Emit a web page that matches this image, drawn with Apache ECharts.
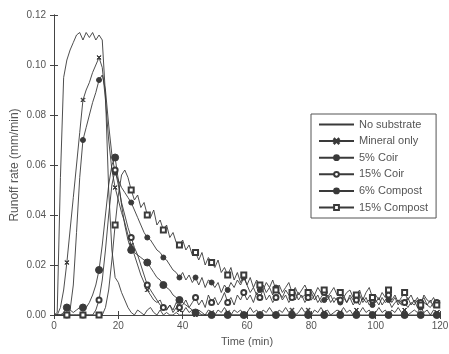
<!DOCTYPE html>
<html>
<head>
<meta charset="utf-8">
<script src="https://cdn.jsdelivr.net/npm/echarts@6/dist/echarts.min.js"></script>
<style>
  html, body { margin: 0; padding: 0; background: #fff; }
  #chart { width: 449px; height: 354px; }
</style>
</head>
<body>
<div id="chart"></div>
<script>
// Runoff rate (mm/min) sampled every minute, 0..120 min
const seriesNames = ['No substrate', 'Mineral only', '5% Coir', '15% Coir', '6% Compost', '15% Compost'];
const xTicks = [0, 20, 40, 60, 80, 100, 120];
const yTicks = [0, 0.02, 0.04, 0.06, 0.08, 0.10, 0.12];

const noSubstrate = [
  0, 0.001, 0.055, 0.095, 0.102, 0.106, 0.109, 0.112, 0.113, 0.110,
  0.113, 0.111, 0.113, 0.110, 0.112, 0.110, 0.088, 0.050, 0.026, 0.015,
  0.013, 0.009, 0.006, 0.003, 0.001, 0.000, 0.002, 0.001, 0.000, 0.002,
  0.003, 0.001, 0.000, 0.002, 0.000, 0.001, 0.000, 0.000, 0.001, 0.000,
  0, 0, 0, 0, 0, 0, 0, 0, 0, 0,
  0, 0, 0, 0, 0, 0, 0, 0, 0, 0, 0
];

const mineralOnly = [
  0, 0, 0.003, 0.010, 0.021, 0.034, 0.047, 0.060, 0.073, 0.086,
  0.090, 0.093, 0.097, 0.100, 0.103, 0.099, 0.086, 0.070, 0.058, 0.051,
  0.046, 0.041, 0.037, 0.032, 0.028, 0.024, 0.020, 0.016, 0.013, 0.010,
  0.008, 0.006, 0.005, 0.006, 0.003, 0.002, 0.004, 0.001, 0.003, 0.002,
  0.001, 0.003, 0.001, 0.002, 0.000, 0.002, 0.001, 0.000, 0.002, 0.001,
  0.000, 0.002, 0.001, 0.003, 0.001, 0.000, 0.002, 0.001, 0.002, 0.000,
  0.001, 0.003, 0.001, 0.002, 0.000, 0.002, 0.001, 0.003, 0.001, 0.000,
  0.002, 0.001, 0.003, 0.001, 0.002, 0.000, 0.001, 0.003, 0.001, 0.002,
  0.000, 0.002, 0.001, 0.003, 0.001, 0.002, 0.000, 0.001, 0.002, 0.001,
  0.003, 0.001, 0.002, 0.000, 0.002, 0.001, 0.003, 0.001, 0.002, 0.000,
  0.001, 0.003, 0.001, 0.002, 0.000, 0.002, 0.001, 0.003, 0.001, 0.002,
  0.000, 0.001, 0.002, 0.001, 0.003, 0.001, 0.002, 0.000, 0.002, 0.001, 0.002
];

const coir5 = [
  0, 0, 0, 0, 0, 0.002, 0.012, 0.033, 0.055, 0.070,
  0.075, 0.080, 0.085, 0.089, 0.094, 0.096, 0.090, 0.076, 0.064, 0.057,
  0.054, 0.051, 0.049, 0.047, 0.045, 0.042, 0.039, 0.036, 0.033, 0.031,
  0.030, 0.028, 0.026, 0.025, 0.023, 0.022, 0.020, 0.018, 0.017, 0.015,
  0.017, 0.014, 0.016, 0.013, 0.015, 0.012, 0.015, 0.011, 0.014, 0.013,
  0.011, 0.013, 0.009, 0.012, 0.010, 0.013, 0.011, 0.014, 0.012, 0.015,
  0.012, 0.009, 0.011, 0.008, 0.010, 0.012, 0.009, 0.011, 0.008, 0.011,
  0.009, 0.007, 0.010, 0.008, 0.009, 0.006, 0.009, 0.007, 0.008, 0.007,
  0.009, 0.006, 0.008, 0.005, 0.006, 0.008, 0.005, 0.007, 0.006, 0.005,
  0.007, 0.005, 0.008, 0.006, 0.006, 0.004, 0.007, 0.005, 0.006, 0.004,
  0.006, 0.004, 0.007, 0.005, 0.006, 0.003, 0.005, 0.006, 0.004, 0.005,
  0.003, 0.005, 0.004, 0.006, 0.003, 0.005, 0.004, 0.003, 0.005, 0.004, 0.003
];

const coir15 = [
  0, 0, 0, 0, 0, 0, 0, 0, 0, 0,
  0, 0, 0, 0.002, 0.006, 0.014, 0.026, 0.040, 0.052, 0.058,
  0.052, 0.045, 0.040, 0.035, 0.031, 0.027, 0.024, 0.020, 0.016, 0.012,
  0.010, 0.008, 0.006, 0.004, 0.003, 0.002, 0.004, 0.002, 0.005, 0.003,
  0.004, 0.006, 0.003, 0.005, 0.007, 0.004, 0.006, 0.003, 0.008, 0.005,
  0.007, 0.004, 0.006, 0.009, 0.005, 0.007, 0.004, 0.008, 0.006, 0.009,
  0.006, 0.008, 0.005, 0.009, 0.007, 0.010, 0.006, 0.008, 0.005, 0.007,
  0.009, 0.006, 0.008, 0.005, 0.007, 0.009, 0.006, 0.008, 0.005, 0.007,
  0.006, 0.008, 0.005, 0.007, 0.009, 0.006, 0.008, 0.005, 0.007, 0.006,
  0.008, 0.005, 0.007, 0.004, 0.006, 0.008, 0.005, 0.007, 0.004, 0.006,
  0.005, 0.007, 0.004, 0.006, 0.008, 0.005, 0.007, 0.004, 0.006, 0.005,
  0.007, 0.004, 0.006, 0.003, 0.005, 0.007, 0.004, 0.006, 0.003, 0.005, 0.004
];

const compost6 = [
  0, 0, 0, 0.001, 0.003, 0.002, 0.001, 0.002, 0.003, 0.003,
  0.003, 0.005, 0.008, 0.012, 0.018, 0.028, 0.040, 0.052, 0.060, 0.063,
  0.054, 0.044, 0.036, 0.030, 0.026, 0.025, 0.024, 0.023, 0.022, 0.021,
  0.019, 0.017, 0.015, 0.014, 0.012, 0.011, 0.010, 0.008, 0.007, 0.006,
  0.005, 0.004, 0.003, 0.002, 0.001, 0.001, 0, 0, 0, 0,
  0, 0, 0, 0, 0, 0, 0, 0, 0, 0,
  0, 0, 0, 0, 0, 0, 0, 0, 0, 0,
  0, 0, 0, 0, 0, 0, 0, 0, 0, 0,
  0, 0, 0, 0, 0, 0, 0, 0, 0, 0,
  0, 0, 0, 0, 0, 0, 0, 0, 0, 0,
  0, 0, 0, 0, 0, 0, 0, 0, 0, 0,
  0, 0, 0, 0, 0, 0, 0, 0, 0, 0, 0
];

const compost15 = [
  0, 0, 0, 0, 0, 0, 0, 0, 0, 0,
  0, 0, 0, 0, 0, 0, 0.003, 0.010, 0.022, 0.036,
  0.048, 0.056, 0.058, 0.055, 0.050, 0.046, 0.048, 0.043, 0.045, 0.040,
  0.039, 0.042, 0.036, 0.038, 0.034, 0.036, 0.031, 0.033, 0.029, 0.028,
  0.030, 0.026, 0.028, 0.024, 0.025, 0.022, 0.025, 0.020, 0.023, 0.021,
  0.019, 0.022, 0.017, 0.019, 0.016, 0.019, 0.014, 0.017, 0.013, 0.016,
  0.012, 0.015, 0.011, 0.014, 0.012, 0.010, 0.013, 0.011, 0.014, 0.010,
  0.012, 0.009, 0.011, 0.013, 0.009, 0.011, 0.008, 0.010, 0.012, 0.009,
  0.010, 0.008, 0.011, 0.009, 0.010, 0.007, 0.009, 0.011, 0.008, 0.009,
  0.007, 0.009, 0.010, 0.007, 0.008, 0.010, 0.006, 0.009, 0.011, 0.007,
  0.008, 0.006, 0.009, 0.007, 0.010, 0.006, 0.008, 0.005, 0.007, 0.009,
  0.006, 0.008, 0.005, 0.007, 0.004, 0.008, 0.006, 0.005, 0.007, 0.004, 0.006
];

// sampling grid in minutes
const minutes = [];
for (let m = 0; m <= 120; m++) minutes.push(m);

const FONT = 'Liberation Sans';
const INK = '#3a3a3a';
const TEXT = '#555';

// markers every fifth sample (4, 9, 14, ... min)
const markEvery = size => (val, params) => (params.dataIndex % 5 === 4 ? size : 0);

const crossPath = 'path://M0,1L1,0L5,4L9,0L10,1L6,5L10,9L9,10L5,6L1,10L0,9L4,5Z';

function lineSeries(name, values, symbol, size) {
  return {
    name: name,
    type: 'line',
    data: values.map((v, i) => [minutes[i], v]),
    symbol: symbol,
    symbolSize: markEvery(size),
    showSymbol: size > 0,
    lineStyle: { color: INK, width: 0.9 },
    itemStyle: { color: INK, borderColor: INK, borderWidth: 1 },
    emphasis: { disabled: true },
    z: 3
  };
}

const axisCommon = {
  axisLine: { show: true, lineStyle: { color: '#444', width: 1 } },
  axisTick: { show: true, inside: true, length: 4, lineStyle: { color: '#444' } },
  splitLine: { show: false }
};

const option = {
  animation: false,
  backgroundColor: '#fff',
  grid: { left: 54, right: 9, top: 15, bottom: 39, containLabel: false, outerBoundsMode: 'none' },
  legend: {
    orient: 'vertical',
    left: 311,
    top: 114,
    padding: [5, 8, 5, 7],
    itemWidth: 35,
    itemHeight: 6,
    itemGap: 5.6,
    borderColor: '#555',
    borderWidth: 1,
    backgroundColor: '#fff',
    textStyle: { fontFamily: FONT, fontSize: 11, color: TEXT, lineHeight: 11 },
    data: [
      { name: seriesNames[0], itemStyle: { opacity: 0 } },
      seriesNames[1], seriesNames[2], seriesNames[3], seriesNames[4], seriesNames[5]
    ]
  },
  xAxis: [
    Object.assign({
      type: 'value', min: xTicks[0], max: xTicks[xTicks.length - 1], interval: xTicks[1] - xTicks[0],
      name: 'Time (min)', nameLocation: 'middle', nameGap: 21, nameMoveOverlap: false,
      nameTextStyle: { fontFamily: FONT, fontSize: 11, color: TEXT },
      axisLabel: { fontFamily: FONT, fontSize: 10, color: TEXT, margin: 6 }
    }, axisCommon),
    Object.assign({
      type: 'value', position: 'top', min: xTicks[0], max: xTicks[xTicks.length - 1], interval: xTicks[1] - xTicks[0],
      axisLabel: { show: false }
    }, axisCommon)
  ],
  yAxis: [
    Object.assign({
      type: 'value', min: yTicks[0], max: yTicks[yTicks.length - 1], interval: 0.02,
      name: 'Runoff rate (mm/min)', nameLocation: 'middle', nameGap: 33, nameRotate: 90, nameMoveOverlap: false,
      nameTextStyle: { fontFamily: FONT, fontSize: 12, color: TEXT },
      axisLabel: { fontFamily: FONT, fontSize: 10, color: TEXT, margin: 8, formatter: v => v.toFixed(2) }
    }, axisCommon),
    Object.assign({
      type: 'value', position: 'right', min: yTicks[0], max: yTicks[yTicks.length - 1], interval: 0.02,
      axisLabel: { show: false }
    }, axisCommon)
  ],
  series: [
    lineSeries('No substrate', noSubstrate, 'circle', 0),
    lineSeries('Mineral only', mineralOnly, crossPath, 4),
    lineSeries('5% Coir', coir5, 'circle', 5),
    lineSeries('15% Coir', coir15, 'emptyCircle', 5),
    lineSeries('6% Compost', compost6, 'circle', 7),
    lineSeries('15% Compost', compost15, 'emptyRect', 5)
  ]
};

const chart = echarts.init(document.getElementById('chart'), null, { renderer: 'canvas' });
chart.setOption(option);
</script>
</body>
</html>
